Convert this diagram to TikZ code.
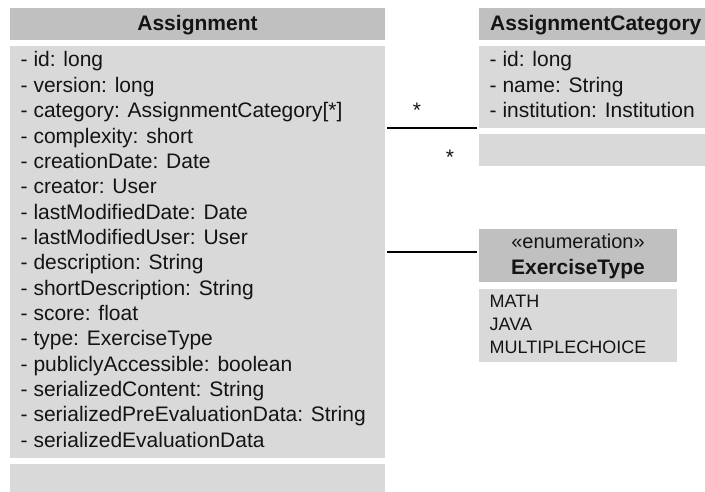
\documentclass[tikz,border=0pt]{standalone}
\usepackage{fontspec}
\setmainfont{Liberation Sans}
\definecolor{hdrgray}{RGB}{192,192,192}
\definecolor{bodygray}{RGB}{217,217,217}
\definecolor{ink}{RGB}{20,20,20}
\begin{document}
\begin{tikzpicture}[x=1pt,y=-1pt,
  compartment/.style={draw=none, inner sep=0pt, outer sep=0pt, anchor=north west},
  headbox/.style={compartment, fill=hdrgray},
  bodybox/.style={compartment, fill=bodygray},
  title/.style={inner sep=0pt, text=ink, font=\fontsize{21}{25}\selectfont\bfseries},
  attr/.style={anchor=base west, inner sep=0pt, text=ink, font=\fontsize{21}{25}\selectfont},
  literal/.style={anchor=base west, inner sep=0pt, text=ink, font=\fontsize{18}{22}\selectfont},
  mult/.style={anchor=base, inner sep=0pt, text=ink, font=\fontsize{21}{25}\selectfont},
  assoc/.style={draw=black, line width=1.6pt}]
\useasboundingbox (0,0) rectangle (705,492);
\clip (0,0) rectangle (705,492);

% Assignment class
\node[headbox, minimum width=375pt, minimum height=32pt] (headA) at (10,8) {};
\node[bodybox, minimum width=375pt, minimum height=411.5pt] (bodyA) at (10,46) {};
\node[bodybox, minimum width=375pt, minimum height=32pt] (opsA) at (10,464) {};
\node[title, anchor=base] (titleA) at (197.5,30.5) {Assignment};
\foreach \t [count=\i from 0] in {%
  {- id: long},
  {- version: long},
  {- category: AssignmentCategory[*]},
  {- complexity: short},
  {- creationDate: Date},
  {- creator: User},
  {- lastModifiedDate: Date},
  {- lastModifiedUser: User},
  {- description: String},
  {- shortDescription: String},
  {- score: float},
  {- type: ExerciseType},
  {- publiclyAccessible: boolean},
  {- serializedContent: String},
  {- serializedPreEvaluationData: String},
  {- serializedEvaluationData}}
  \node[attr] (attrA\i) at (20.5,{67+25.35*\i}) {\t};

% AssignmentCategory class
\node[headbox, minimum width=233pt, minimum height=32pt] (headC) at (479,8) {};
\node[bodybox, minimum width=233pt, minimum height=82pt] (bodyC) at (479,46) {};
\node[bodybox, minimum width=233pt, minimum height=32pt] (opsC) at (479,134) {};
\node[title, anchor=base west] (titleC) at (490,30.5) {AssignmentCategory};
\foreach \t [count=\i from 0] in {%
  {- id: long},
  {- name: String},
  {- institution: Institution}}
  \node[attr] (attrC\i) at (489.5,{67+25.35*\i}) {\t};

% ExerciseType enumeration
\node[headbox, minimum width=198pt, minimum height=53pt] (headE) at (479,229) {};
\node[bodybox, minimum width=198pt, minimum height=73pt] (bodyE) at (479,289) {};
\node[inner sep=0pt, anchor=base, text=ink, font=\fontsize{20}{24}\selectfont] (stereoE) at (578,248) {«enumeration»};
\node[title, anchor=base] (titleE) at (578,274) {ExerciseType};
\node[literal] (litE0) at (489.5,308) {MATH};
\node[literal] (litE1) at (489.5,330.5) {JAVA};
\node[literal] (litE2) at (489.5,353) {MULTIPLECHOICE};

% associations
\draw[assoc] ([xshift=2pt]bodyA.east |- bodyC.south west) -- ([xshift=-2pt]bodyC.south west);
\path (bodyA.east |- headE.west) coordinate (typeEnd);
\draw[assoc] ([shift={(2pt,3.5pt)}]typeEnd) -- ([shift={(-2pt,3.5pt)}]headE.west);
\node[mult] (multA) at (417,117.5) {*};
\node[mult] (multC) at (450,165) {*};
\end{tikzpicture}
\end{document}
